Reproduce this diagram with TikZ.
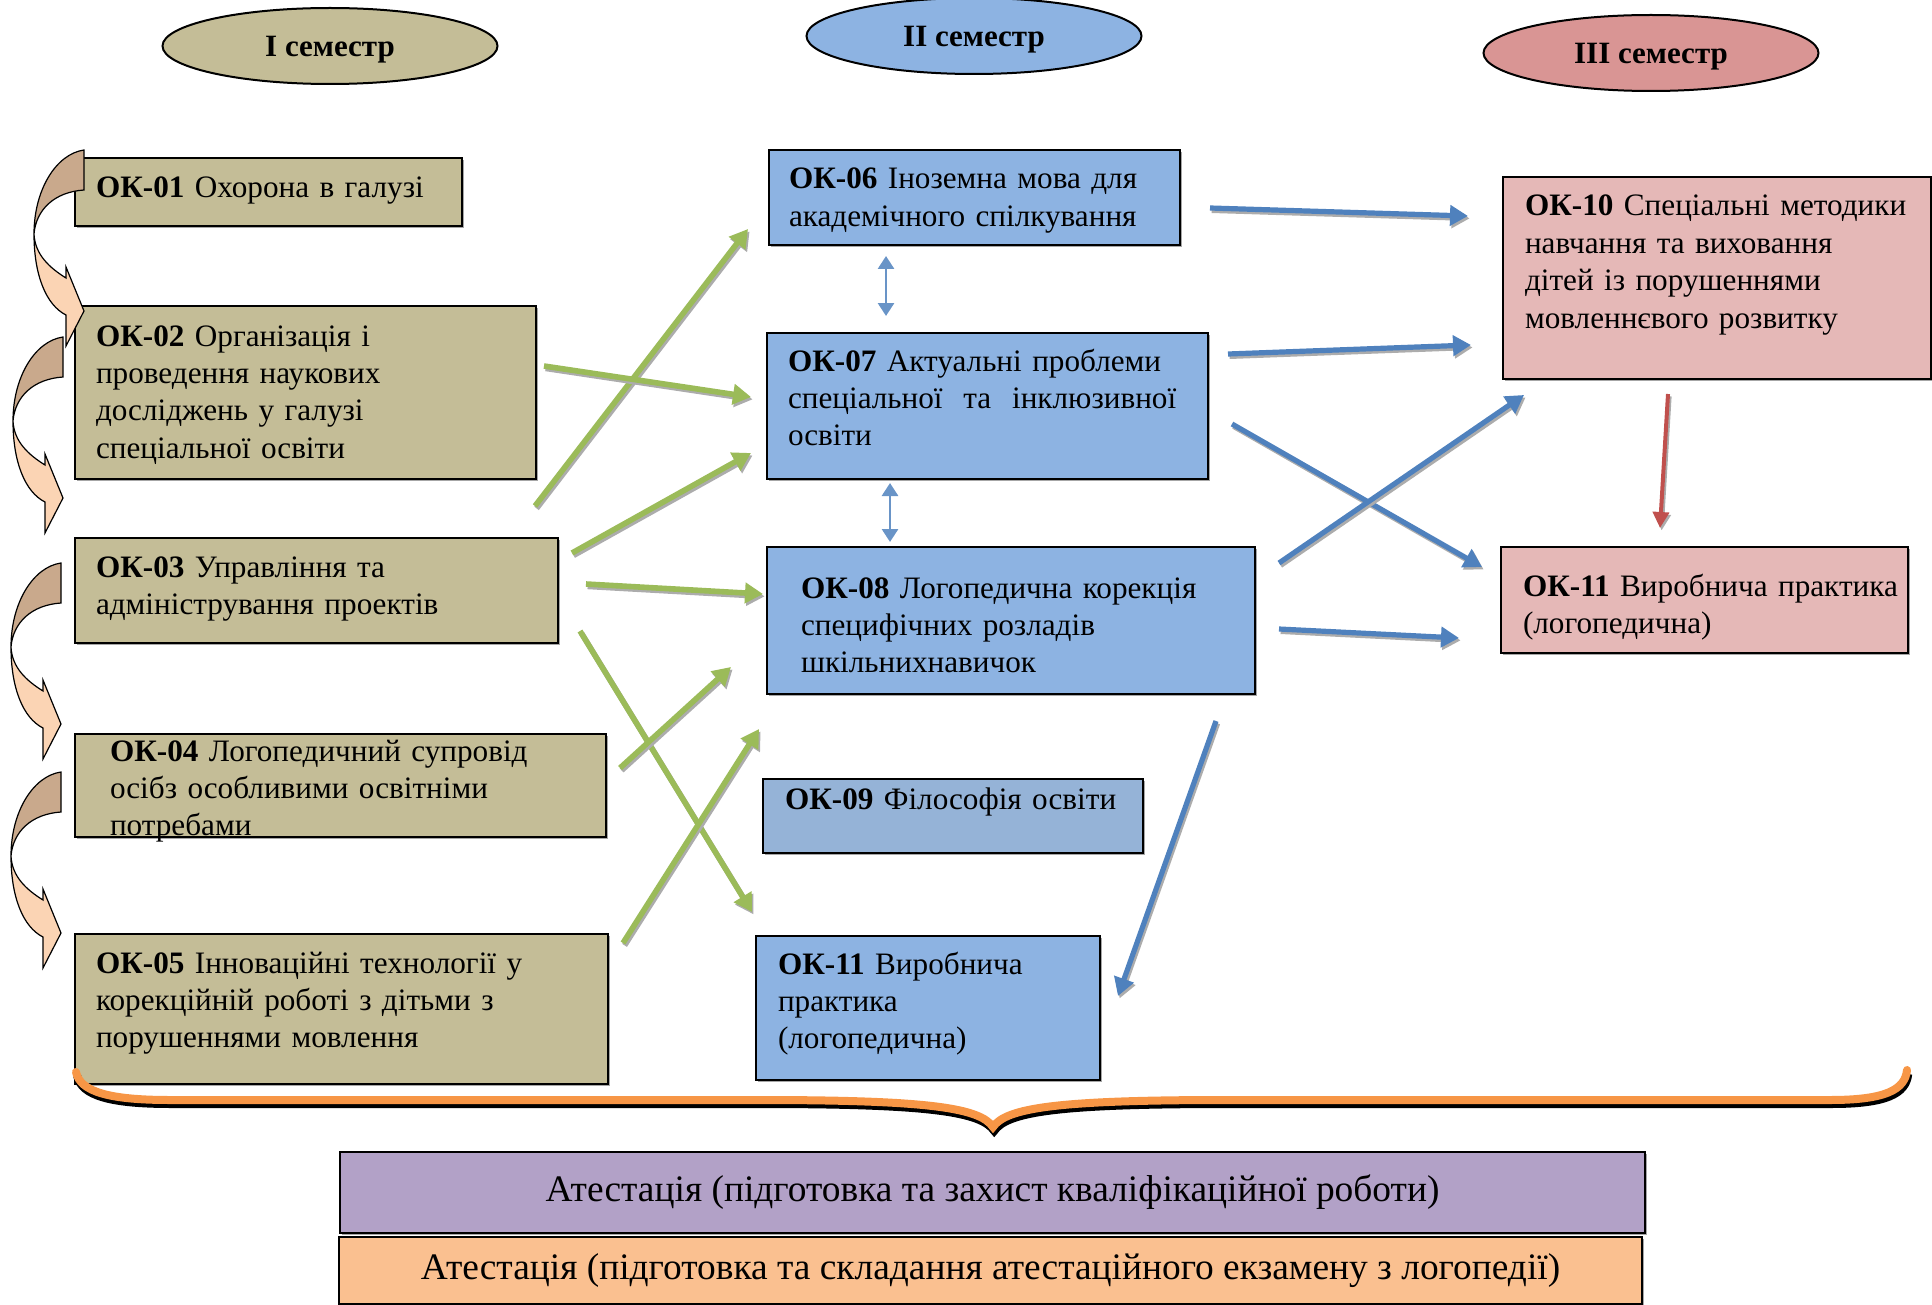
\documentclass[tikz,border=0pt]{standalone}
\usepackage{fontspec}
\setmainfont{Liberation Serif}
\usetikzlibrary{arrows.meta, positioning, shapes.geometric, shadows}

\definecolor{tanfill}{HTML}{C4BD97}
\definecolor{bluefill}{HTML}{8DB3E2}
\definecolor{bluefillb}{HTML}{95B3D7}
\definecolor{pinkfill}{HTML}{E5B8B7}
\definecolor{semred}{HTML}{D99594}
\definecolor{attviolet}{HTML}{B2A1C7}
\definecolor{attorange}{HTML}{FAC090}
\definecolor{arrgreen}{HTML}{9BBB59}
\definecolor{arrblue}{HTML}{4F81BD}
\definecolor{arrred}{HTML}{C0504D}
\definecolor{bracecol}{HTML}{F79646}
\definecolor{curvback}{HTML}{C9A98C}
\definecolor{curvfront}{HTML}{FBD4B4}

\newcommand{\boxfont}{\fontsize{15.6pt}{18.7pt}\selectfont}

\tikzset{
  okbox/.style={draw=black, line width=1pt, anchor=north west, align=left,
    inner ysep=0pt, font=\boxfont,
    drop shadow={shadow xshift=0.8pt, shadow yshift=-0.8pt, fill=black, opacity=0.35}},
  attbox/.style={draw=black, line width=1pt, anchor=north west, inner sep=0pt,
    font=\fontsize{18.7pt}{22pt}\selectfont,
    drop shadow={shadow xshift=0.8pt, shadow yshift=-0.8pt, fill=black, opacity=0.35}},
  semester/.style={ellipse, draw=black, line width=1pt, minimum width=167.5pt,
    minimum height=38pt, inner sep=0pt, text depth=0pt,
    font=\fontsize{15.5pt}{18pt}\selectfont\bfseries},
  greenarrow/.style={draw=arrgreen, line width=2.8pt, -{Triangle[length=9pt,width=10pt]},
    preaction={draw=gray!65, line width=2.8pt, transform canvas={shift={(0.8pt,-1.2pt)}}}},
  bluearrow/.style={draw=arrblue, line width=2.6pt, -{Triangle[length=9pt,width=10pt]},
    preaction={draw=gray!65, line width=2.6pt, transform canvas={shift={(0.8pt,-1.2pt)}}}},
  redarrow/.style={draw=arrred, line width=2pt, -{Triangle[length=8pt,width=8pt]},
    preaction={draw=gray!65, line width=2pt, transform canvas={shift={(0.8pt,-1.2pt)}}}},
  dblarrow/.style={draw=arrblue!85!white, line width=1.4pt,
    {Triangle[length=6.5pt,width=8pt]}-{Triangle[length=6.5pt,width=8pt]}},
  curvpart/.style={draw=black, line width=0.6pt}
}

\begin{document}
\begin{tikzpicture}[x=0.5pt, y=-0.5pt]
\useasboundingbox (0,0) rectangle (1932,1305);

% semesters
\node[semester, fill=tanfill] (sem1) at (330,46) {І семестр};
\node[semester, fill=bluefill] (sem2) at (974,36) {ІІ семестр};
\node[semester, fill=semred] (sem3) at (1651,53) {ІІІ семестр};

% first semester
\node[okbox, fill=tanfill, text width=172.5pt, inner xsep=10.5pt, text height=20pt, text depth=14pt]
  (ok01) at (74,157) {\textbf{ОК-01} Охорона в галузі};
\node[okbox, fill=tanfill, text width=209.5pt, inner xsep=10.5pt, text height=20pt, text depth=66.5pt]
  (ok02) at (74,305) {\textbf{ОК-02} Організація і\\проведення наукових\\досліджень у галузі\\спеціальної освіти};
\node[okbox, fill=tanfill, text width=220.5pt, inner xsep=10.5pt, text height=19.5pt, text depth=33pt]
  (ok03) at (74,537) {\textbf{ОК-03} Управління та\\адміністрування проектів};
\node[okbox, fill=tanfill, text width=230.5pt, inner xsep=17.5pt, text height=13.5pt, text depth=38pt]
  (ok04) at (74,733) {\textbf{ОК-04} Логопедичний супровід\\осібз особливими освітніми\\потребами};
\node[okbox, fill=tanfill, text width=245.5pt, inner xsep=10.5pt, text height=19.5pt, text depth=55.5pt]
  (ok05) at (74,933) {\textbf{ОК-05} Інноваційні технології у\\корекційній роботі з дітьми з\\порушеннями мовлення};

% second semester
\node[okbox, fill=bluefill, text width=185.5pt, inner xsep=10pt, text height=19.5pt, text depth=28pt]
  (ok06) at (768,149) {\textbf{ОК-06} Іноземна мова для\\академічного спілкування};
\node[okbox, fill=bluefill, text width=199.5pt, inner xsep=10.5pt, text height=19pt, text depth=54pt]
  (ok07) at (766,332) {\textbf{ОК-07} Актуальні проблеми\\\mbox{спеціальної\ \ та\ \ інклюзивної}\\освіти};
\node[okbox, fill=bluefill, text width=210pt, inner xsep=17pt, text height=25.5pt, text depth=48pt]
  (ok08) at (766,546) {\textbf{ОК-08} Логопедична корекція\\специфічних розладів\\шкільнихнавичок};
\node[okbox, fill=bluefillb, text width=168pt, inner xsep=11pt, text height=15pt, text depth=22pt]
  (ok09) at (762,778) {\mbox{\textbf{ОК-09} Філософія освіти}};
\node[okbox, fill=bluefill, text width=150pt, inner xsep=11pt, text height=19pt, text depth=53pt]
  (ok11m) at (755,935) {\textbf{ОК-11} Виробнича\\практика\\(логопедична)};

% third semester
\node[okbox, fill=pinkfill, text width=192pt, inner xsep=11pt, text height=19.5pt, text depth=81.5pt]
  (ok10) at (1502,176) {\mbox{\textbf{ОК-10} Спеціальні методики}\\навчання та виховання\\дітей із порушеннями\\мовленнєвого розвитку};
\node[okbox, fill=pinkfill, text width=181.5pt, inner xsep=11pt, text height=24.5pt, text depth=28.5pt]
  (ok11r) at (1500,546) {\mbox{\textbf{ОК-11} Виробнича практика}\\(логопедична)};

% attestation
\node[attbox, fill=attviolet, minimum width=652.5pt, minimum height=40.5pt]
  (att1) at (339,1151) {Атестація (підготовка та захист кваліфікаційної роботи)};
\node[attbox, fill=attorange, minimum width=651.5pt, minimum height=33.5pt]
  (att2) at (338,1236) {Атестація (підготовка та складання атестаційного екзамену з логопедії)};

% curved arrows on the left
\foreach \xr/\yt in {84/150, 63/337, 61/563, 61/772} {
  \filldraw[curvpart, fill=curvback] (\xr,\yt) .. controls (\xr-28,\yt+4) and (\xr-50,\yt+40) .. (\xr-50,\yt+84)
    .. controls (\xr-48,\yt+60) and (\xr-30,\yt+42) .. (\xr,\yt+40) -- cycle;
  \filldraw[curvpart, fill=curvfront] (\xr-50,\yt+84) .. controls (\xr-50,\yt+125) and (\xr-38,\yt+155) .. (\xr-18,\yt+165)
    -- (\xr-18,\yt+196) -- (\xr,\yt+161) -- (\xr-18,\yt+117) -- (\xr-18,\yt+128)
    .. controls (\xr-34,\yt+118) and (\xr-49,\yt+105) .. (\xr-50,\yt+84) -- cycle;
}

% green links
\draw[greenarrow] ([shift={(-24,-31)}]ok03.north east) -- ([shift={(-20,31.5)}]ok06.west);
\draw[greenarrow] ([shift={(7,-26.5)}]ok02.east) -- ([shift={(-15,-9)}]ok07.west);
\draw[greenarrow] ([shift={(13,16)}]ok03.north east) -- ([shift={(-15,-27)}]ok07.south west);
\draw[greenarrow] ([shift={(27,-6.5)}]ok03.east) -- ([shift={(-3,-26.5)}]ok08.west);
\draw[greenarrow] ([shift={(21,-13)}]ok03.south east) -- ([shift={(-3,-23)}]ok11m.north west);
\draw[greenarrow] ([shift={(13,-17.5)}]ok04.east) -- ([shift={(-35,-28)}]ok08.south west);
\draw[greenarrow] ([shift={(14,10)}]ok05.north east) -- ([shift={(-7,34)}]ok08.south west);

% blue links
\draw[bluearrow] ([shift={(29,10.5)}]ok06.east) -- ([shift={(-34,-62)}]ok10.west);
\draw[bluearrow] ([shift={(19,22)}]ok07.north east) -- ([shift={(-31,-35)}]ok10.south west);
\draw[bluearrow] ([shift={(23,18)}]ok07.east) -- ([shift={(-18,21)}]ok11r.north west);
\draw[bluearrow] ([shift={(23,17)}]ok08.north east) -- ([shift={(22,15)}]ok10.south west);
\draw[bluearrow] ([shift={(23,8.5)}]ok08.east) -- ([shift={(-41,38)}]ok11r.west);
\draw[bluearrow] ([shift={(-40,26)}]ok08.south east) -- ([shift={(17,-12)}]ok11m.east);

\draw[dblarrow] ([shift={(-88.5,10)}]ok06.south) -- ([shift={(-101.5,-16)}]ok07.north);
\draw[dblarrow] ([shift={(-97.5,3)}]ok07.south) -- ([shift={(-121,-4)}]ok08.north);

\draw[redarrow] ([shift={(-49,14)}]ok10.south) -- ([shift={(-44.5,-18)}]ok11r.north);

% brace
\draw[bracecol, line width=4pt, line cap=round,
  preaction={draw=black, line width=4pt, transform canvas={shift={(0.6pt,-2pt)}}}]
  (76,1072) .. controls (80,1092) and (110,1100) .. (170,1100) -- (760,1100)
  .. controls (930,1100) and (980,1108) .. (993,1127)
  .. controls (1006,1108) and (1056,1100) .. (1226,1100) -- (1830,1100)
  .. controls (1885,1100) and (1905,1090) .. (1907,1070);
\end{tikzpicture}
\end{document}
